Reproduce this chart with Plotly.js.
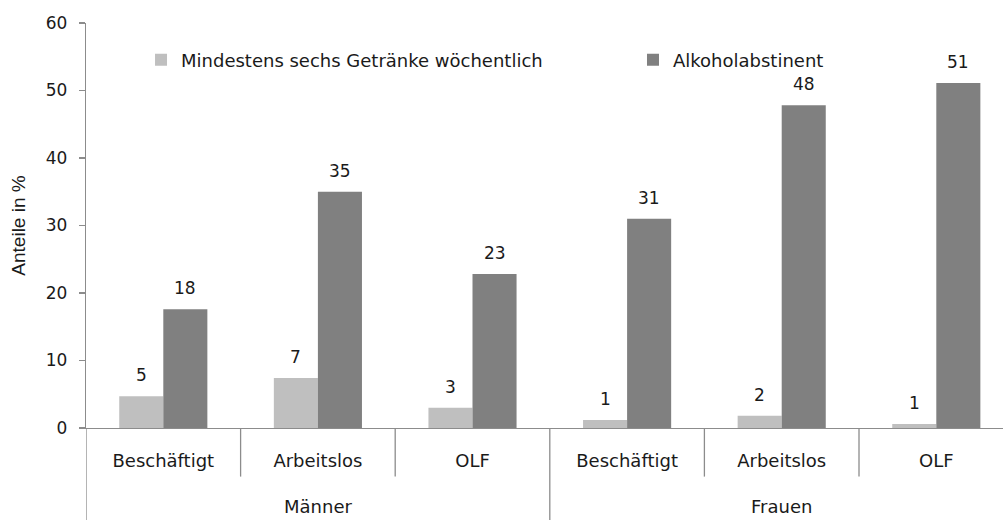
<!DOCTYPE html>
<html>
<head>
<meta charset="utf-8">
<script src="https://cdn.plot.ly/plotly-3.0.1.min.js"></script>
<style>
  html, body { margin: 0; padding: 0; background: #fff; }
  #chart { width: 1003px; height: 520px; }
</style>
</head>
<body>
<div id="chart"></div>
<script>
// Gender groups and employment status (two label rows under the axis)
const genderGroups = ['Männer', 'Männer', 'Männer', 'Frauen', 'Frauen', 'Frauen'];
const employmentStatus = ['Beschäftigt', 'Arbeitslos', 'OLF', 'Beschäftigt', 'Arbeitslos', 'OLF'];

// Shares in percent
const seriesNames = ['Mindestens sechs Getränke wöchentlich', 'Alkoholabstinent'];
const sixPlusDrinks = [4.7, 7.4, 3.0, 1.2, 1.8, 0.6];
const abstinent = [17.6, 35.0, 22.8, 31.0, 47.8, 51.1];

const yTicks = [0, 10, 20, 30, 40, 50, 60];
const yTitle = 'Anteile in %';

const lightGrey = '#bfbfbf';
const darkGrey = '#808080';
const axisGrey = '#8c8c8c';
const inkColor = '#1a1a1a';
const textFont = 'DejaVu Sans, sans-serif';
const bargap = 0.43;

// one slot per employment category along the x axis
const slots = employmentStatus.map(function (_, i) { return i; });

const traces = [
  { type: 'bar', name: seriesNames[0], x: slots, y: sixPlusDrinks,
    marker: { color: lightGrey }, legend: 'legend', hoverinfo: 'y' },
  { type: 'bar', name: seriesNames[1], x: slots, y: abstinent,
    marker: { color: darkGrey }, legend: 'legend2', hoverinfo: 'y' }
];

const annotations = [];

// value labels above each bar, offset to the bar centre within its slot
const barWidth = (1 - bargap) / 2;
[sixPlusDrinks, abstinent].forEach(function (vals, s) {
  const shift = (s - 0.5) * barWidth;
  vals.forEach(function (v, i) {
    annotations.push({
      x: slots[i] + shift, y: v, xref: 'x', yref: 'y',
      text: String(Math.round(v)), showarrow: false,
      xanchor: 'center', yanchor: 'bottom', yshift: 9,
      font: { family: textFont, size: 17, color: inkColor }
    });
  });
});

// gender labels centred under their three categories
const groupNames = genderGroups.filter(function (g, i) { return genderGroups.indexOf(g) === i; });
groupNames.forEach(function (g) {
  const members = slots.filter(function (i) { return genderGroups[i] === g; });
  const mid = (members[0] + members[members.length - 1]) / 2;
  annotations.push({
    x: mid, y: -0.195, xref: 'x', yref: 'paper',
    text: g, showarrow: false, xanchor: 'center', yanchor: 'middle',
    font: { family: textFont, size: 18, color: inkColor }
  });
});

// separators below the axis: short ones between categories, long ones between groups
const shapes = [];
const shortDrop = -0.12;
const longDrop = -0.23;
shapes.push({
  type: 'line', xref: 'x', yref: 'paper',
  x0: slots[0] - 0.5, x1: slots[0] - 0.5, y0: 0, y1: longDrop,
  line: { color: axisGrey, width: 1.3 }
});
for (let i = 0; i < slots.length - 1; i++) {
  const between = genderGroups[i] !== genderGroups[i + 1];
  shapes.push({
    type: 'line', xref: 'x', yref: 'paper',
    x0: slots[i] + 0.5, x1: slots[i] + 0.5, y0: 0, y1: between ? longDrop : shortDrop,
    line: { color: axisGrey, width: 1.3 }
  });
}

const legendBase = {
  orientation: 'h', xanchor: 'left', y: 0.9086, yanchor: 'middle',
  bgcolor: 'rgba(0,0,0,0)', borderwidth: 0, itemwidth: 30,
  font: { family: textFont, size: 18, color: inkColor }
};

const layout = {
  width: 1003, height: 520,
  margin: { l: 86, r: 0, t: 23, b: 92 },
  paper_bgcolor: '#fff', plot_bgcolor: '#fff',
  barmode: 'group', bargap: bargap, bargroupgap: 0,
  font: { family: textFont, size: 18, color: inkColor },
  showlegend: true,
  legend: Object.assign({}, legendBase, { x: 0.06 }),
  legend2: Object.assign({}, legendBase, { x: 0.5965 }),
  xaxis: {
    range: [-0.5, -0.5 + 917 / 154.6],
    tickvals: slots, ticktext: employmentStatus,
    showline: true, linecolor: axisGrey, linewidth: 1.3,
    showgrid: false, zeroline: false, ticks: '',
    ticklabelstandoff: 16,
    tickfont: { family: textFont, size: 18, color: inkColor }
  },
  yaxis: {
    range: [0, 60], tickvals: yTicks,
    showline: true, linecolor: axisGrey, linewidth: 1.3,
    ticks: 'outside', ticklen: 6, tickcolor: axisGrey, tickwidth: 1.3,
    ticklabelstandoff: 8,
    showgrid: false, zeroline: false,
    tickfont: { family: textFont, size: 17, color: inkColor },
    title: { text: yTitle, standoff: 15,
      font: { family: 'Liberation Sans, Arial, sans-serif', size: 19, color: inkColor } }
  },
  annotations: annotations,
  shapes: shapes
};

Plotly.newPlot('chart', traces, layout, { displayModeBar: false, staticPlot: true });
</script>
</body>
</html>
